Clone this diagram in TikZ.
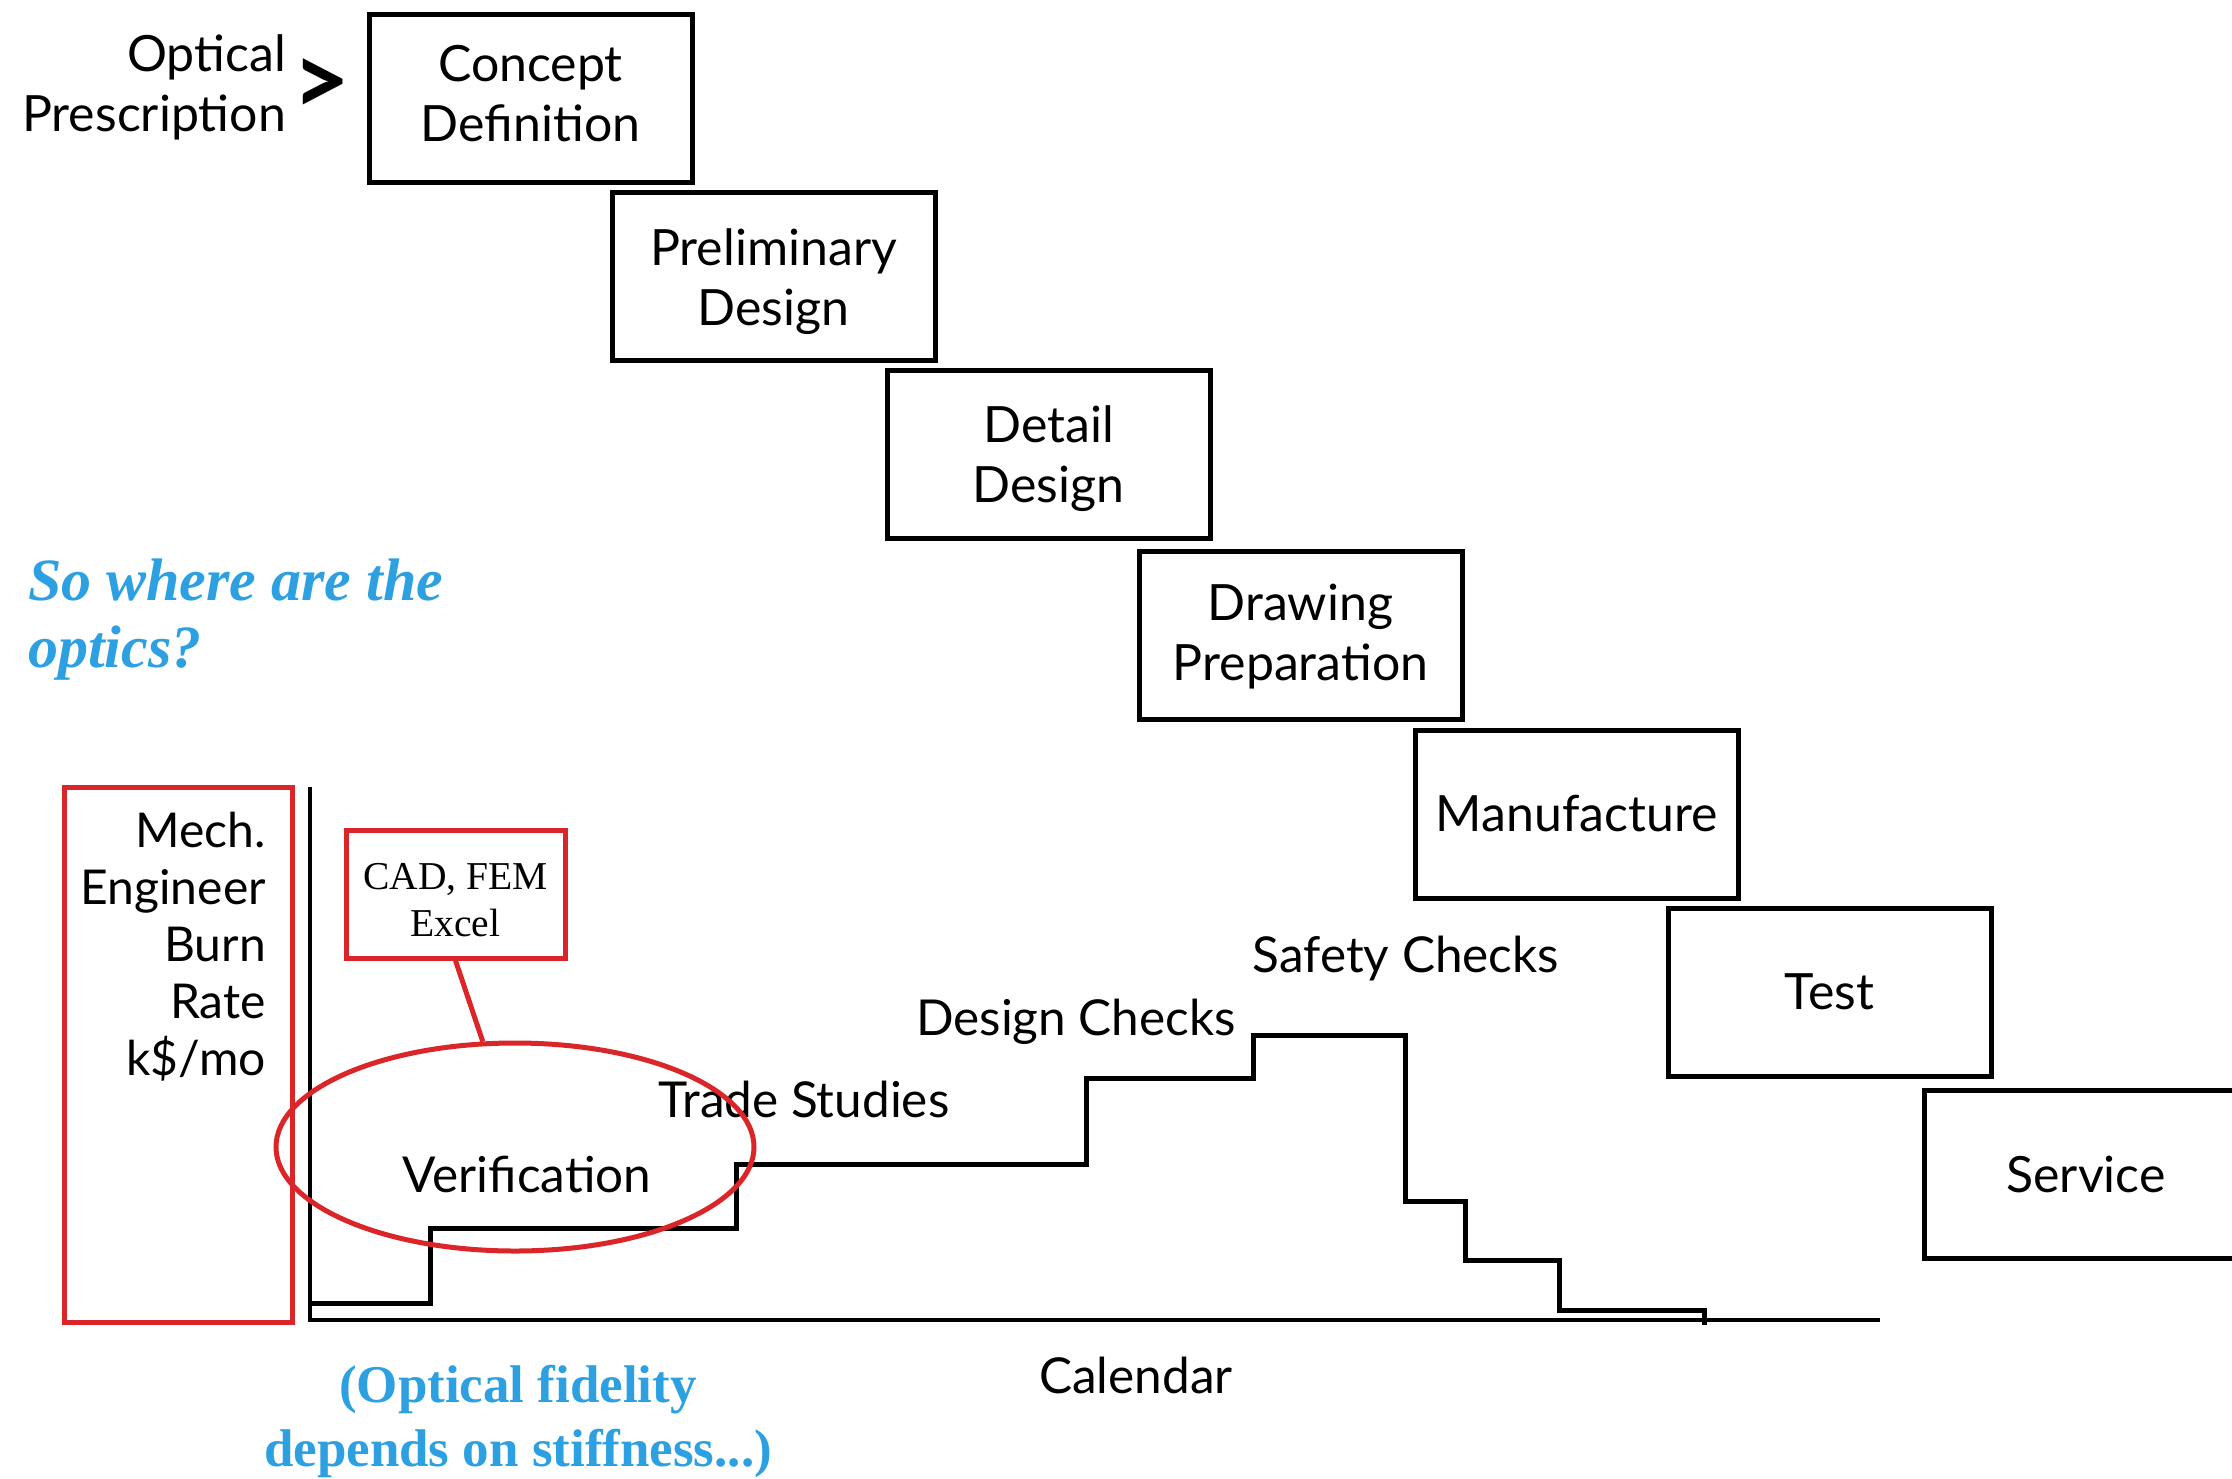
\documentclass[tikz,border=0pt]{standalone}
\usepackage{fontspec}
\setmainfont{Lato}
\newfontfamily\tms{Liberation Serif}
\usetikzlibrary{shapes.geometric}
\definecolor{myred}{RGB}{218,37,41}
\definecolor{myblue}{RGB}{45,160,225}
\newcommand{\twolines}[3]{\raisebox{#1}[\height][\depth]{\begin{tabular}{@{}c@{}}#2\\#3\end{tabular}}}
\begin{document}
\begin{tikzpicture}[x=1pt,y=-1pt,
  phase/.style={draw=black, line width=5pt, minimum width=323pt, minimum height=168pt, align=center, font=\fontsize{50}{60}\selectfont, inner sep=0pt},
  lbl/.style={font=\fontsize{49.5}{58}\selectfont, inner sep=0pt},
  bluetxt/.style={text=myblue, inner sep=0pt, align=center},
  redline/.style={draw=myred, line width=5pt},
  blk/.style={draw=black, line width=5pt}]
\useasboundingbox (0,0) rectangle (2232,1478);
\clip (0,0) rectangle (2232,1478);
\fill[white] (0,0) rectangle (2232,1478);

% phase boxes
\node[phase] (concept) at (530.5,98) {\twolines{-1.5pt}{Concept}{Definition}};
\node[phase] (prelim) at (773.5,276) {\twolines{-7pt}{Preliminary}{Design}};
\node[phase] (detail) at (1048.5,454) {\twolines{-6pt}{Detail}{Design}};
\node[phase] (drawing) at (1300.5,635) {\twolines{-3pt}{Drawing}{Preparation}};
\node[phase] (manuf) at (1576.5,814) {Manufacture};
\node[phase] (test) at (1829.5,992) {Test};
\node[phase] (service) at (2086,1174) {Service};

% optical prescription
\node[lbl, anchor=east, align=right, font=\fontsize{50}{60}\selectfont] (optpres) at (286,87) {Optical\\Prescription};
\node[inner sep=0pt, font=\fontsize{100}{100}\selectfont\bfseries] (gt) at (321,87) {>};

% blue question
\node[bluetxt, anchor=west, align=left, font=\tms\bfseries\itshape\fontsize{60}{67}\selectfont] (where) at (28,620) {So where are the\\optics?};

% mech engineer box
\node[redline, minimum width=228pt, minimum height=535pt, inner sep=0pt] (mechbox) at (178,1054.5) {};
\node[lbl, anchor=east, align=right, font=\fontsize{48}{57}\selectfont] (mechtxt) at (266,947) {Mech.\\Engineer\\Burn\\Rate\\k\$/mo};

% axes
\coordinate (origin) at (310,1320);
\coordinate (ytop) at (310,787);
\coordinate (xend) at (1880,1320);
\draw[blk, line width=4pt] (310,1322) -- (ytop);
\draw[blk, line width=4pt] (origin) -- (xend);

% staircase
\draw[blk, line join=miter] (310,1303) -- (430,1303) -- (430,1228) -- (736,1228) -- (736,1164) -- (1086,1164) -- (1086,1078) -- (1253,1078) -- (1253,1035) -- (1405,1035) -- (1405,1201) -- (1465,1201) -- (1465,1260) -- (1559,1260) -- (1559,1310) -- (1704,1310) -- (1704,1325);

% labels
\node[lbl] (verif) at (527,1174) {Verification};
\node[lbl] (trade) at (804,1099) {Trade Studies};
\node[lbl] (dchecks) at (1076,1022) {Design Checks};
\node[lbl] (schecks) at (1406,959) {Safety Checks};
\node[lbl] (cal) at (1136,1375) {Calendar};

% CAD box and ellipse
\node[redline, minimum width=219pt, minimum height=128pt, inner sep=0pt, align=center, font=\tms\fontsize{39.5}{47}\selectfont] (cad) at (455.5,894) {\twolines{-10pt}{CAD, FEM}{Excel}};
\node[redline, ellipse, minimum width=478pt, minimum height=208pt, inner sep=0pt] (ell) at (515,1147) {};
\draw[redline] (cad.south) -- (ell.107);

% blue bottom
\node[bluetxt, font=\tms\bfseries\fontsize{53}{64}\selectfont] (fidelity) at (518,1421) {(Optical fidelity\\depends on stiffness...)};
\end{tikzpicture}
\end{document}
